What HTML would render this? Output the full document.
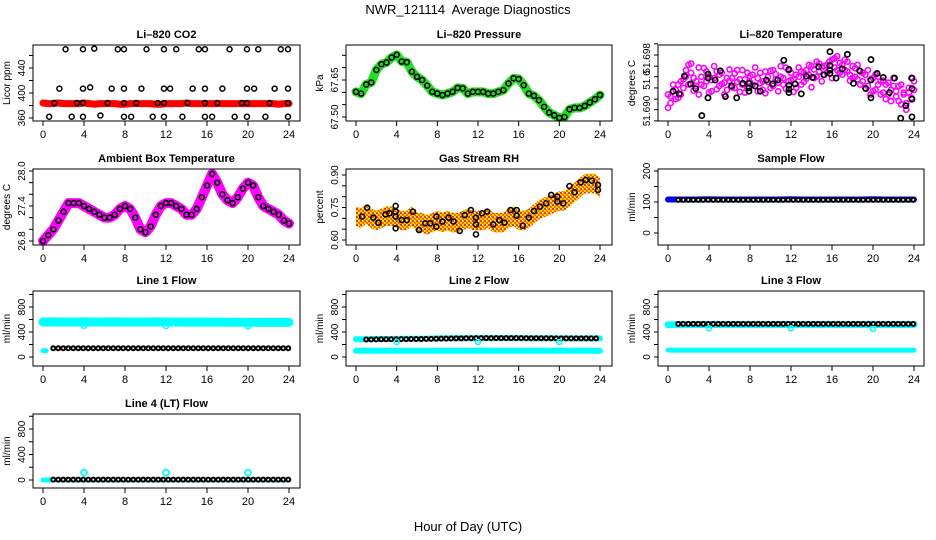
<!DOCTYPE html>
<html><head><meta charset="utf-8"><style>
body{margin:0;background:#fff}
svg{display:block;font-family:"Liberation Sans",sans-serif}
</style></head><body>
<svg id="chart" width="936" height="540" viewBox="0 0 936 540">
<defs>
<pattern id="rhpat" width="4" height="4" patternUnits="userSpaceOnUse"><rect width="4" height="4" fill="#ffcc00"/><rect width="2" height="2" fill="#e84000"/><rect x="2" y="2" width="2" height="2" fill="#f07000"/><rect x="2" y="0" width="1" height="1" fill="#fff"/></pattern>
</defs>
<text x="468" y="14" text-anchor="middle" font-size="13" xml:space="preserve">NWR_121114  Average Diagnostics</text>
<text x="468" y="531" text-anchor="middle" font-size="13">Hour of Day (UTC)</text>
</svg>
<script>
const hours05=[0,0.5,1,1.5,2,2.5,3,3.5,4,4.5,5,5.5,6,6.5,7,7.5,8,8.5,9,9.5,10,10.5,11,11.5,12,12.5,13,13.5,14,14.5,15,15.5,16,16.5,17,17.5,18,18.5,19,19.5,20,20.5,21,21.5,22,22.5,23,23.5,24];
const hours25=[0,0.25,0.5,0.75,1,1.25,1.5,1.75,2,2.25,2.5,2.75,3,3.25,3.5,3.75,4,4.25,4.5,4.75,5,5.25,5.5,5.75,6,6.25,6.5,6.75,7,7.25,7.5,7.75,8,8.25,8.5,8.75,9,9.25,9.5,9.75,10,10.25,10.5,10.75,11,11.25,11.5,11.75,12,12.25,12.5,12.75,13,13.25,13.5,13.75,14,14.25,14.5,14.75,15,15.25,15.5,15.75,16,16.25,16.5,16.75,17,17.25,17.5,17.75,18,18.25,18.5,18.75,19,19.25,19.5,19.75,20,20.25,20.5,20.75,21,21.25,21.5,21.75,22,22.25,22.5,22.75,23,23.25,23.5,23.75,24];
const xTicks=[0,4,8,12,16,20,24];
// CO2
const co2Red=[384,383,383,384,383,383,383,383,384,383,382,383,383,383,383,382,382,383,383,383,383,383,382,382,383,383,383,383,384,383,383,383,383,383,383,383,383,383,383,383,383,383,383,383,383,383,382,383,383];
const co2PtH=[2.2,3.9,5.0,7.3,7.9,10.1,11.8,13.0,15.2,15.8,18.2,19.9,21.0,23.2,23.9,1.6,3.9,4.6,6.7,7.9,9.6,11.8,12.4,14.6,15.8,17.5,19.9,20.6,22.6,23.9,1.1,3.3,3.9,6.3,7.9,9.1,11.2,11.8,14.1,15.8,17.0,19.4,19.9,22.1,23.9,0.6,2.8,3.9,5.6,7.9,8.6,10.7,11.8,13.6,15.8,16.5,18.7,19.9,21.7,23.9];
const co2PtV=[470,470,471,470,470,470,470,470,470,470,470,470,470,470,470,407,407,409,407,407,407,407,407,407,407,407,407,407,407,407,384,384,384,384,384,384,384,384,384,384,384,384,384,384,384,362,362,362,364,362,362,362,362,362,362,362,362,362,362,362];
// Ambient
const ambient=[26.8,26.9,27.0,27.15,27.3,27.45,27.45,27.45,27.4,27.35,27.3,27.25,27.2,27.2,27.25,27.35,27.4,27.35,27.2,27.0,26.95,27.05,27.25,27.4,27.45,27.45,27.4,27.35,27.25,27.25,27.35,27.55,27.75,27.95,27.8,27.6,27.5,27.45,27.55,27.7,27.8,27.75,27.55,27.4,27.35,27.3,27.25,27.15,27.1];
// Pressure
const pressure=[67.602,67.595,67.632,67.640,67.691,67.714,67.721,67.741,67.752,67.725,67.722,67.684,67.663,67.650,67.627,67.602,67.595,67.589,67.595,67.602,67.618,67.616,67.595,67.602,67.602,67.602,67.595,67.595,67.602,67.609,67.636,67.657,67.654,67.629,67.595,67.586,67.568,67.541,67.518,67.507,67.496,67.500,67.531,67.537,67.537,67.545,67.559,67.572,67.589];
// RH
const rhBand=[0.71,0.70,0.72,0.70,0.69,0.70,0.71,0.71,0.70,0.69,0.69,0.71,0.68,0.68,0.67,0.68,0.69,0.68,0.69,0.68,0.68,0.69,0.70,0.69,0.69,0.69,0.70,0.68,0.68,0.68,0.70,0.71,0.69,0.69,0.70,0.72,0.74,0.75,0.76,0.77,0.78,0.78,0.80,0.82,0.84,0.86,0.86,0.86,0.84];
const rhHalf=0.045;
const rhPtH=[0.6,1.1,1.7,2.2,2.9,3.3,3.9,3.9,3.9,3.9,4.5,5.0,5.6,6.2,6.8,7.3,7.9,7.9,8.5,9.1,9.6,10.2,10.7,11.3,11.8,11.8,11.8,12.4,12.9,13.5,14.1,14.6,15.2,15.8,15.8,16.4,17.0,17.5,18.1,18.7,19.2,19.8,19.8,20.4,21.0,21.5,22.1,22.6,23.2,23.8,23.8];
const rhPtV=[0.708,0.749,0.703,0.68,0.718,0.723,0.757,0.731,0.708,0.654,0.692,0.692,0.731,0.646,0.677,0.677,0.708,0.662,0.685,0.703,0.685,0.642,0.715,0.738,0.703,0.672,0.626,0.723,0.731,0.672,0.692,0.68,0.738,0.738,0.712,0.666,0.703,0.734,0.754,0.769,0.808,0.80,0.777,0.769,0.849,0.82,0.866,0.877,0.874,0.854,0.831];
// Li-820 temperature
const tempPinkA=[51.6905,51.6922,51.6930,51.6918,51.6940,51.6925,51.6948,51.6962,51.6970,51.6958,51.6931,51.6945,51.6966,51.6952,51.6938,51.6960,51.6928,51.6947,51.6968,51.6933,51.6955,51.6941,51.6925,51.6950,51.6963,51.6936,51.6957,51.6944,51.6929,51.6962,51.6948,51.6935,51.6953,51.6940,51.6966,51.6930,51.6958,51.6945,51.6927,51.6952,51.6961,51.6938,51.6956,51.6943,51.6968,51.6950,51.6934,51.6962,51.6947,51.6929,51.6955,51.6966,51.6940,51.6958,51.6949,51.6970,51.6936,51.6963,51.6952,51.6972,51.6945,51.6968,51.6958,51.6975,51.6950,51.6980,51.6962,51.6973,51.6955,51.6978,51.6960,51.6946,51.6968,51.6952,51.6970,51.6940,51.6958,51.6935,51.6962,51.6948,51.6930,51.6955,51.6940,51.6925,51.6946,51.6918,51.6943,51.6932,51.6950,51.6922,51.6938,51.6910,51.6928,51.6902,51.6935,51.6920,51.6945];
const tempPinkB=[51.6925,51.6912,51.6940,51.6932,51.6920,51.6945,51.6935,51.6952,51.6940,51.6972,51.6950,51.6938,51.6925,51.6940,51.6965,51.6945,51.6952,51.6930,51.6950,51.6960,51.6938,51.6958,51.6943,51.6932,51.6946,51.6950,51.6935,51.6962,51.6948,51.6940,51.6928,51.6958,51.6944,51.6955,51.6938,51.6950,51.6942,51.6932,51.6960,51.6944,51.6935,51.6962,51.6948,51.6930,51.6952,51.6940,51.6966,51.6945,51.6958,51.6948,51.6935,51.6952,51.6960,51.6944,51.6962,51.6955,51.6968,51.6950,51.6975,51.6960,51.6966,51.6955,51.6970,51.6962,51.6978,51.6966,51.6983,51.6958,51.6970,51.6962,51.6975,51.6955,51.6950,51.6965,51.6948,51.6960,51.6945,51.6955,51.6938,51.6925,51.6950,51.6932,51.6952,51.6945,51.6928,51.6940,51.6925,51.6915,51.6938,51.6930,51.6915,51.6940,51.6925,51.6912,51.6928,51.6950,51.6932];
const tempPtH=[0.5,1.1,1.6,2.2,2.7,3.3,3.9,3.9,3.9,4.6,5.1,5.6,6.2,6.7,7.3,7.9,7.9,7.9,8.5,9.0,9.6,10.2,10.7,11.3,11.8,11.8,11.8,11.8,12.4,13.0,13.5,14.1,14.7,15.2,15.8,15.8,15.8,15.8,16.4,17.0,17.5,18.1,18.7,19.3,19.8,19.8,19.8,20.4,21.0,21.6,22.1,22.7,23.2,23.8,23.8,23.8,23.8];
const tempPtV=[51.6930,51.6926,51.6953,51.6941,51.6934,51.6893,51.6956,51.6950,51.6920,51.6947,51.6961,51.6922,51.6938,51.6920,51.6942,51.6942,51.6935,51.6930,51.6938,51.6930,51.6947,51.6941,51.6947,51.6977,51.6963,51.6939,51.6933,51.6928,51.6941,51.6926,51.6953,51.6951,51.6967,51.6955,51.6990,51.6969,51.6962,51.6957,51.6950,51.6964,51.6986,51.6942,51.6961,51.6934,51.6978,51.6947,51.6920,51.6957,51.6951,51.6928,51.6950,51.6889,51.6908,51.6950,51.6934,51.6918,51.6891];
// Flows (hourly values)
const hoursH=[0,1,2,3,4,5,6,7,8,9,10,11,12,13,14,15,16,17,18,19,20,21,22,23,24];
const sampleBlue=[108,108,108,108,109,108,108,108,108,108,108,108,109,108,108,108,108,108,108,108,109,108,108,108,108];
const sampleBlack=[107,107,107,107,107,107,107,107,107,107,107,107,107,107,107,107,107,107,107,107,107,107,107,107,107];
const l1Cyan=[560,562,560,560,562,560,560,562,560,560,560,562,560,560,558,560,558,558,556,556,555,555,555,555,555];
const l1Black=[140,140,140,140,140,140,140,140,140,140,140,140,140,140,140,140,140,140,140,140,140,140,140,140,140];
const l1Lo=[100,100];
const l1LoH=[0,0.3];
const dipH=[4,12,20];
const l1Dip=[500,495,490];
const l2CyanHi=[285,285,288,288,290,292,292,295,298,300,300,300,302,302,302,302,302,300,300,300,298,298,298,298,298];
const l2Black=[280,280,282,285,285,287,288,290,292,295,298,300,302,302,302,302,302,300,300,300,298,298,298,298,298];
const l2Lo=[100,100,100,100,100,100,100,100,100,100,100,100,100,100,100,100,100,100,100,100,100,100,100,100,98];
const l2Dip=[240,240,240];
const l3CyanHi=[515,518,520,520,520,520,520,520,520,520,520,520,520,520,520,520,520,520,520,520,520,520,520,520,520];
const l3Black=[530,530,530,530,530,530,530,530,530,530,530,530,530,530,530,530,530,530,530,530,530,530,530,530,530];
const l3Lo=[110,110,110,110,110,110,110,110,110,110,110,110,110,110,110,110,110,110,110,110,110,110,110,110,110];
const l3Dip=[460,460,450];
const l4Cyan=[0,0,0,0,0,0,0,0,0,0,0,0,0,0,0,0,0,0,0,0,0,0,0,0,0];
const l4Black=[5,5,5,5,5,5,5,5,5,5,5,5,5,5,5,5,5,5,5,5,5,5,5,5,5];
const l4Spike=[115,115,115];

const NS='http://www.w3.org/2000/svg';
const svg=document.getElementById('chart');
function mk(tag,attrs,parent){const e=document.createElementNS(NS,tag);for(const k in attrs)e.setAttribute(k,attrs[k]);(parent||svg).appendChild(e);return e;}
const cols=[{bl:33,br:300,x0:43,x24:289},{bl:346,br:612,x0:356,x24:600},{bl:658,br:924,x0:668,x24:914}];
const rows=[[45,121],[169,245],[291,366],[414,488]];

function panel(name,title,ytitle,c,r,ya,yb,yticks,ylabels){
  const col=cols[c],[top,bot]=rows[r];
  const g=mk('g',{});
  
  
  const sx=h=>col.x0+(col.x24-col.x0)*h/24;
  const sy=v=>ya[1]+(v-ya[0])*(yb[1]-ya[1])/(yb[0]-ya[0]);
  const cp=mk('clipPath',{id:'cp'+name},g);
  mk('rect',{x:col.bl,y:top,width:col.br-col.bl,height:bot-top},cp);
  const plot=mk('g',{'clip-path':'url(#cp'+name+')'},g);
  
  
  const box=mk('rect',{x:col.bl,y:top,width:col.br-col.bl,height:bot-top,fill:'none',stroke:'#000','stroke-width':1},g);
  
  
  const t=mk('text',{x:(col.bl+col.br)/2,y:top-7,'text-anchor':'middle','font-size':11,'font-weight':'bold'},g);
  t.textContent=title;
  
  
  const yt=mk('text',{x:0,y:0,'text-anchor':'middle','font-size':10,transform:`translate(${col.bl-23},${(top+bot)/2}) rotate(-90)`},g);
  yt.textContent=ytitle;
  
  
  xTicks.forEach(h=>{
    const tk=mk('line',{x1:sx(h),x2:sx(h),y1:bot,y2:bot+5,stroke:'#000'},g);
    
    
    const l=mk('text',{x:sx(h),y:bot+17,'text-anchor':'middle','font-size':11},g);
    l.textContent=h;
    
    
  });
  yticks.forEach(v=>{
    const tk=mk('line',{x1:col.bl-4,x2:col.bl,y1:sy(v),y2:sy(v),stroke:'#000'},g);
    
    
  });
  ylabels.forEach(([v,s])=>{
    const l=mk('text',{x:0,y:0,'text-anchor':'middle','font-size':10,transform:`translate(${col.bl-8},${sy(v)}) rotate(-90)`},g);
    l.textContent=s;
    
    
  });
  return {plot,sx,sy};
}
function band(p,name,hs,vs,color,w){
  const e=mk('polyline',{points:hs.map((h,i)=>p.sx(h)+','+p.sy(vs[i])).join(' '),fill:'none',stroke:color,'stroke-width':w,'stroke-linejoin':'round','stroke-linecap':'round'},p.plot);
  
  
}
function rings(p,name,hs,vs,color,gap){
  const pts=hs.map((h,i)=>p.sx(h)+','+p.sy(vs[i])).join(' ');
  const e=mk('polyline',{points:pts,fill:'none',stroke:color,'stroke-width':6,'stroke-linecap':'round','stroke-dasharray':'0 '+gap},p.plot);
  
  
  const e2=mk('polyline',{points:pts,fill:'none',stroke:'#fff','stroke-width':2,'stroke-linecap':'round','stroke-dasharray':'0 '+gap},p.plot);
  
  
}
function pts(p,name,hs,vs,color,r,sw){
  hs.forEach((h,i)=>{
    const c=mk('circle',{cx:p.sx(h),cy:p.sy(vs[i]),r:r,fill:'none',stroke:color,'stroke-width':sw},p.plot);
    
    
  });
}

// Li-820 CO2
let p=panel('co2','Li\u2013820 CO2','Licor ppm',0,0,[360,118],[440,68],[360,380,400,420,440,460],[[360,'360'],[400,'400'],[440,'440']]);
band(p,'co2-red-series',hours05,co2Red,'#ff0000',7);
pts(p,'co2-point',co2PtH,co2PtV,'#000',2.5,1.5);
// Pressure
p=panel('pressure','Li\u2013820 Pressure','kPa',1,0,[67.50,117],[67.65,80],[67.50,67.55,67.60,67.65,67.70,67.75],[[67.50,'67.50'],[67.65,'67.65']]);
band(p,'pressure-green-series',hours05,pressure,'#22e022',9);
pts(p,'pressure-point',hours05,pressure,'#000',2.5,1.6);
// Temperature
p=panel('li-temp','Li\u2013820 Temperature','degrees C',2,0,[51.690,111],[51.698,58.3],[51.6885,51.6902,51.6918,51.6935,51.6952,51.6968,51.6985,51.7002],[[51.690,'51.690'],[51.6947,'51.6'],[51.698,'51.698']]);
pts(p,'temp-pink-point',hours25,tempPinkA,'#ff00ff',2.6,1.6);
pts(p,'temp-pink-point',hours25,tempPinkB,'#ff00ff',2.6,1.6);
pts(p,'temp-black-point',tempPtH,tempPtV,'#000',2.6,1.7);
// Ambient
p=panel('ambient','Ambient Box Temperature','degrees C',0,1,[26.8,241],[28.0,171],[26.8,27.0,27.2,27.4,27.6,27.8,28.0],[[26.8,'26.8'],[27.4,'27.4'],[28.0,'28.0']]);
band(p,'ambient-magenta-series',hours05,ambient,'#ff00ff',10);
pts(p,'ambient-point',hours05,ambient,'#000',2.5,1.6);
// RH
p=panel('rh','Gas Stream RH','percent',1,1,[0.60,240],[0.90,175],[0.60,0.65,0.70,0.75,0.80,0.85,0.90],[[0.60,'0.60'],[0.75,'0.75'],[0.90,'0.90']]);
{
  const up=hours05.map((h,i)=>p.sx(h)+','+p.sy(rhBand[i]+rhHalf));
  const lo=hours05.map((h,i)=>p.sx(h)+','+p.sy(rhBand[i]-rhHalf)).reverse();
  const e=mk('polygon',{points:up.concat(lo).join(' '),fill:'url(#rhpat)'},p.plot);
  
  
}
pts(p,'rh-point',rhPtH,rhPtV,'#000',2.5,1.6);
// Sample flow
p=panel('sample-flow','Sample Flow','ml/min',2,1,[0,233],[200,171],[0,50,100,150,200],[[0,'0'],[100,'100'],[200,'200']]);
band(p,'sample-blue-series',hoursH,sampleBlue,'#0000ff',6);
rings(p,'sample-black-series',hoursH.slice(1),sampleBlack.slice(1),'#000',5);
// Line flows
const lt=[0,200,400,600,800,1000], ll=[[0,'0'],[400,'400'],[800,'800']];
p=panel('line1','Line 1 Flow','ml/min',0,2,[0,357],[800,307],lt,ll);
band(p,'line1-cyan-series',hoursH,l1Cyan,'#00ffff',9);
band(p,'line1-cyan-low',l1LoH,l1Lo,'#00ffff',5);
rings(p,'line1-black-series',hoursH.slice(1),l1Black.slice(1),'#000',5);
pts(p,'line1-dip',dipH,l1Dip,'#00ffff',2.5,1.6);
p=panel('line2','Line 2 Flow','ml/min',1,2,[0,357],[800,307],lt,ll);
band(p,'line2-cyan-high',hoursH,l2CyanHi,'#00ffff',6);
band(p,'line2-cyan-low',hoursH,l2Lo,'#00ffff',6);
rings(p,'line2-black-series',hoursH.slice(1),l2Black.slice(1),'#000',5);
pts(p,'line2-dip',dipH,l2Dip,'#00ffff',2.5,1.6);
p=panel('line3','Line 3 Flow','ml/min',2,2,[0,357],[800,307],lt,ll);
band(p,'line3-cyan-high',hoursH,l3CyanHi,'#00ffff',7);
band(p,'line3-cyan-low',hoursH,l3Lo,'#00ffff',5);
rings(p,'line3-black-series',hoursH.slice(1),l3Black.slice(1),'#000',5);
pts(p,'line3-dip',dipH,l3Dip,'#00ffff',2.5,1.6);
p=panel('line4','Line 4 (LT) Flow','ml/min',0,3,[0,480],[800,429],lt,ll);
band(p,'line4-cyan-series',hoursH,l4Cyan,'#00ffff',5);
rings(p,'line4-black-series',hoursH.slice(1),l4Black.slice(1),'#000',5);
pts(p,'line4-spike',dipH,l4Spike,'#00ffff',3,1.8);
</script>
</body></html>
